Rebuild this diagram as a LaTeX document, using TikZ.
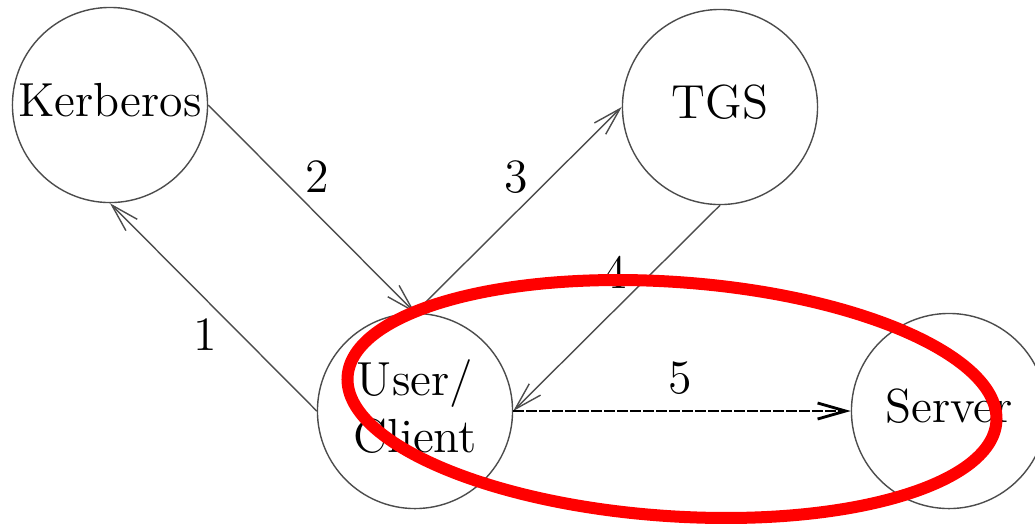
\documentclass[tikz,border=0pt]{standalone}
\colorlet{linegray}{black!70}
\usetikzlibrary{arrows.meta,positioning}
\tikzstyle{party}=[draw=linegray,circle,line width=0.4pt,minimum
size=1.95cm,inner sep=0pt,text depth=0.1cm,align=center]
\tikzstyle{msg}=[->,draw=linegray,line width=0.4pt]
\tikzstyle{num}=[inner sep=0pt]

\begin{document}
\begin{tikzpicture}[x=0.01cm, y=-0.01cm,
    >={Straight Barb[length=0.28cm,width=0.16cm]},
    font=\fontsize{13.6}{16}\selectfont]
  \useasboundingbox (0,0) rectangle (1035,523);

  \node[party] (kerb) at (110,105) {Kerberos};
  \node[party] (tgs) at (720,107) {TGS};
  \node[party] (user) at (415,411) {User/\\Client};
  \node[party] (server) at (949,411) {Server};

  \draw[msg] (user.west) -- (kerb.south);
  \draw[msg] (kerb.east) -- (user.north);
  \draw[msg] (user.north) -- (tgs.west);
  \draw[msg] (tgs.south) -- (user.east);
  \draw[->, line width=0.8pt, dash pattern=on 0.11cm off 0.02cm]
    (user.east) -- (server.west);

  \node[num] (n1) at (205,335) {1};
  \node[num] (n2) at (317,177) {2};
  \node[num] (n3) at (516,177) {3};
  \node[num] (n4) at (615,272) {4};
  \node[num] (n5) at (680,378) {5};

%  the highlight
  \draw[red, line width=0.12cm, rotate around={-4:(672,399)}]
    (672,399) ellipse [x radius=3.25cm, y radius=1.17cm];
\end{tikzpicture}
\end{document}
